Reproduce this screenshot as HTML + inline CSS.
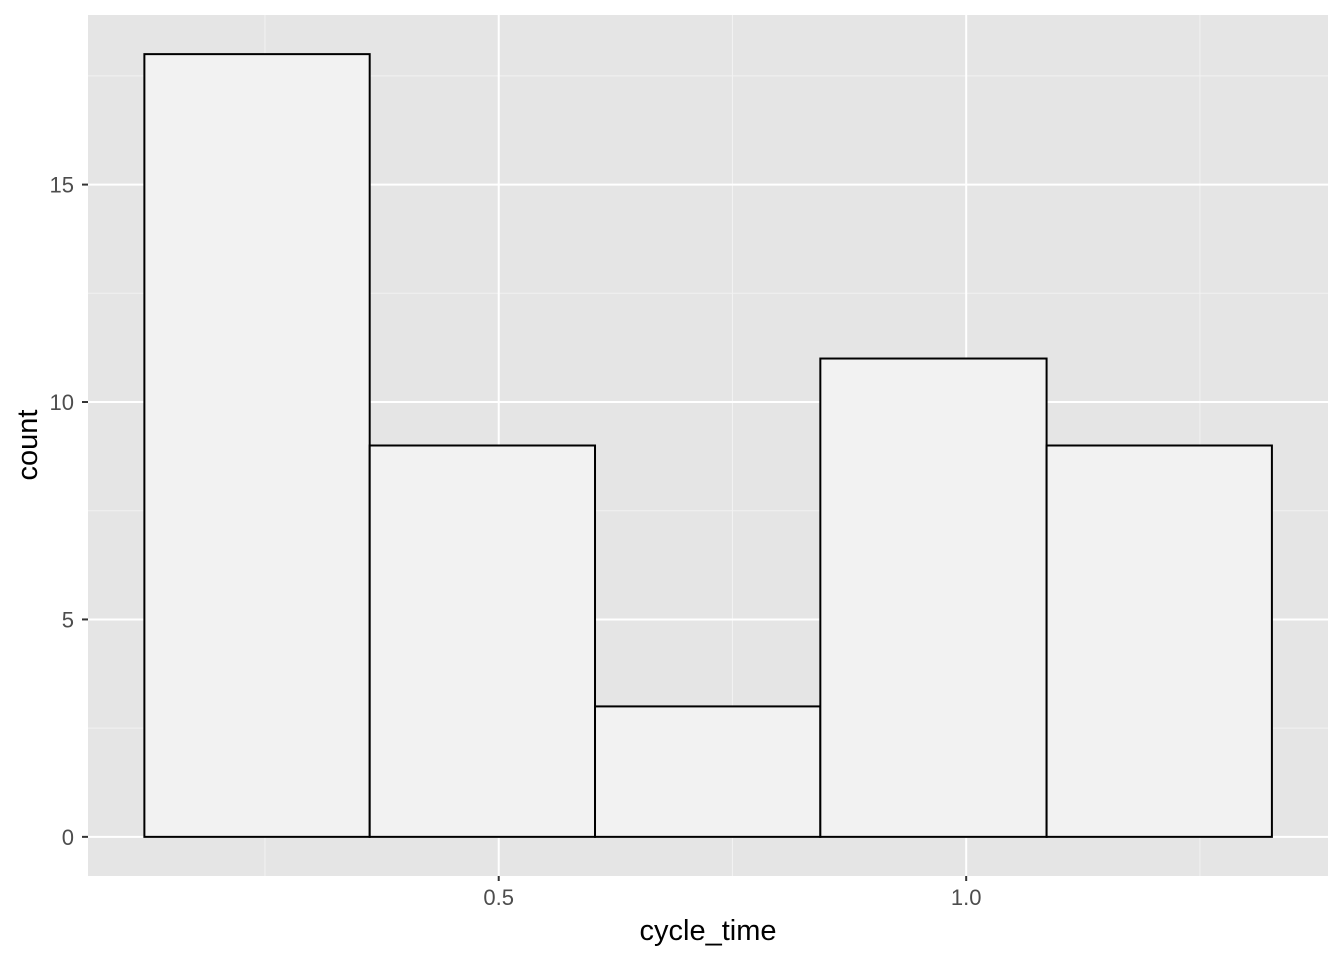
<!DOCTYPE html>
<html><head><meta charset="utf-8"><style>
html,body{margin:0;padding:0;background:#fff;}
svg{display:block;font-family:"Liberation Sans",Arial,sans-serif;}
</style></head><body>
<svg id="chart" width="1344" height="960">
<rect x="88" y="15" width="1240" height="861" fill="#e5e5e5"/>
<g id="grid"></g><g id="bars"></g><g id="axes"></g>
<text x="708" y="940" text-anchor="middle" font-size="29" fill="#000">cycle_time</text>
<text transform="translate(37,445) rotate(-90)" text-anchor="middle" font-size="29" fill="#000">count</text>
</svg>
<script>
const binEdges=[0.121,0.362,0.603,0.844,1.086,1.327];
const counts=[18,9,3,11,9];
const xTicks=[0.5,1.0];
const xTickLabels=["0.5","1.0"];
const xMinor=[0.25,0.75,1.25];
const yTicks=[0,5,10,15];
const yTickLabels=["0","5","10","15"];
const yMinor=[2.5,7.5,12.5,17.5];
const NS="http://www.w3.org/2000/svg";
const X0=88,X1=1328,Y0=876,Y1=15;
const xmin=0.0607,xmax=1.387,ymin=-0.9,ymax=18.9;
const sx=v=>X0+(v-xmin)/(xmax-xmin)*(X1-X0);
const sy=v=>Y0-(v-ymin)/(ymax-ymin)*(Y0-Y1);
function mk(t,a,p){const e=document.createElementNS(NS,t);for(const k in a)e.setAttribute(k,a[k]);p.appendChild(e);return e;}
const grid=document.getElementById('grid'),bars=document.getElementById('bars'),axes=document.getElementById('axes');
xMinor.forEach(v=>{const l=mk('line',{x1:sx(v),x2:sx(v),y1:Y1,y2:Y0,stroke:'#f2f2f2','stroke-width':1},grid);

});
yMinor.forEach(v=>{const l=mk('line',{x1:X0,x2:X1,y1:sy(v),y2:sy(v),stroke:'#f2f2f2','stroke-width':1},grid);

});
xTicks.forEach((v,i)=>{const l=mk('line',{x1:sx(v),x2:sx(v),y1:Y1,y2:Y0,stroke:'#fff','stroke-width':2},grid);


const t=mk('line',{x1:sx(v),x2:sx(v),y1:Y0,y2:Y0+5,stroke:'#333','stroke-width':2},axes);


const tx=mk('text',{x:sx(v),y:Y0+29,'text-anchor':'middle','font-size':22,fill:'#4d4d4d'},axes);tx.textContent=xTickLabels[i];

});
yTicks.forEach((v,i)=>{const l=mk('line',{x1:X0,x2:X1,y1:sy(v),y2:sy(v),stroke:'#fff','stroke-width':2},grid);


const t=mk('line',{x1:X0-6,x2:X0,y1:sy(v),y2:sy(v),stroke:'#333','stroke-width':2},axes);


const tx=mk('text',{x:X0-14,y:sy(v)+8,'text-anchor':'end','font-size':22,fill:'#4d4d4d'},axes);tx.textContent=yTickLabels[i];

});
counts.forEach((c,i)=>{const x=sx(binEdges[i]),w=sx(binEdges[i+1])-x;
const r=mk('rect',{x:x,y:sy(c),width:w,height:sy(0)-sy(c),fill:'#f2f2f2',stroke:'#000','stroke-width':2},bars);

});
</script>
</body></html>
